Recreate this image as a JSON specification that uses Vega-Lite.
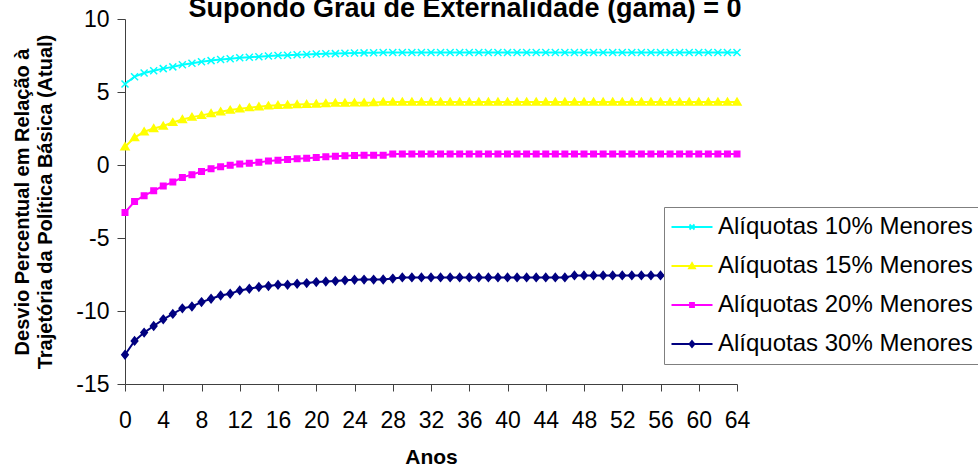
{
  "$schema": "https://vega.github.io/schema/vega-lite/v6.json",
  "width": 612,
  "height": 365,
  "autosize": {"type": "none"},
  "padding": {"left": 125, "top": 19, "right": 241, "bottom": 86},
  "background": "white",
  "title": {
    "text": "Supondo Grau de Externalidade (gama) = 0",
    "font": "Liberation Sans",
    "fontSize": 27,
    "fontWeight": "bold",
    "color": "black",
    "anchor": "middle",
    "dx": 34,
    "dy": 40,
    "baseline": "alphabetic"
  },
  "config": {
    "view": {"stroke": null},
    "font": "Liberation Sans",
    "axis": {
      "grid": false,
      "labelFont": "Liberation Sans",
      "labelFontSize": 23,
      "labelColor": "black",
      "titleFont": "Liberation Sans",
      "titleFontWeight": "bold",
      "titleColor": "black",
      "domainColor": "#404040",
      "tickColor": "#404040",
      "domainWidth": 1,
      "tickWidth": 1
    }
  },
  "data": {
    "values": [
      {"ano": 0, "desvio": 5.55, "serie": "Alíquotas 10% Menores"},
      {"ano": 1, "desvio": 6.05, "serie": "Alíquotas 10% Menores"},
      {"ano": 2, "desvio": 6.3, "serie": "Alíquotas 10% Menores"},
      {"ano": 3, "desvio": 6.45, "serie": "Alíquotas 10% Menores"},
      {"ano": 4, "desvio": 6.6, "serie": "Alíquotas 10% Menores"},
      {"ano": 5, "desvio": 6.72, "serie": "Alíquotas 10% Menores"},
      {"ano": 6, "desvio": 6.87, "serie": "Alíquotas 10% Menores"},
      {"ano": 7, "desvio": 6.97, "serie": "Alíquotas 10% Menores"},
      {"ano": 8, "desvio": 7.07, "serie": "Alíquotas 10% Menores"},
      {"ano": 9, "desvio": 7.15, "serie": "Alíquotas 10% Menores"},
      {"ano": 10, "desvio": 7.23, "serie": "Alíquotas 10% Menores"},
      {"ano": 11, "desvio": 7.28, "serie": "Alíquotas 10% Menores"},
      {"ano": 12, "desvio": 7.34, "serie": "Alíquotas 10% Menores"},
      {"ano": 13, "desvio": 7.38, "serie": "Alíquotas 10% Menores"},
      {"ano": 14, "desvio": 7.42, "serie": "Alíquotas 10% Menores"},
      {"ano": 15, "desvio": 7.46, "serie": "Alíquotas 10% Menores"},
      {"ano": 16, "desvio": 7.5, "serie": "Alíquotas 10% Menores"},
      {"ano": 17, "desvio": 7.52, "serie": "Alíquotas 10% Menores"},
      {"ano": 18, "desvio": 7.55, "serie": "Alíquotas 10% Menores"},
      {"ano": 19, "desvio": 7.57, "serie": "Alíquotas 10% Menores"},
      {"ano": 20, "desvio": 7.6, "serie": "Alíquotas 10% Menores"},
      {"ano": 21, "desvio": 7.62, "serie": "Alíquotas 10% Menores"},
      {"ano": 22, "desvio": 7.63, "serie": "Alíquotas 10% Menores"},
      {"ano": 23, "desvio": 7.65, "serie": "Alíquotas 10% Menores"},
      {"ano": 24, "desvio": 7.67, "serie": "Alíquotas 10% Menores"},
      {"ano": 25, "desvio": 7.68, "serie": "Alíquotas 10% Menores"},
      {"ano": 26, "desvio": 7.69, "serie": "Alíquotas 10% Menores"},
      {"ano": 27, "desvio": 7.7, "serie": "Alíquotas 10% Menores"},
      {"ano": 28, "desvio": 7.7, "serie": "Alíquotas 10% Menores"},
      {"ano": 29, "desvio": 7.7, "serie": "Alíquotas 10% Menores"},
      {"ano": 30, "desvio": 7.7, "serie": "Alíquotas 10% Menores"},
      {"ano": 31, "desvio": 7.7, "serie": "Alíquotas 10% Menores"},
      {"ano": 32, "desvio": 7.7, "serie": "Alíquotas 10% Menores"},
      {"ano": 33, "desvio": 7.7, "serie": "Alíquotas 10% Menores"},
      {"ano": 34, "desvio": 7.7, "serie": "Alíquotas 10% Menores"},
      {"ano": 35, "desvio": 7.7, "serie": "Alíquotas 10% Menores"},
      {"ano": 36, "desvio": 7.7, "serie": "Alíquotas 10% Menores"},
      {"ano": 37, "desvio": 7.7, "serie": "Alíquotas 10% Menores"},
      {"ano": 38, "desvio": 7.7, "serie": "Alíquotas 10% Menores"},
      {"ano": 39, "desvio": 7.7, "serie": "Alíquotas 10% Menores"},
      {"ano": 40, "desvio": 7.7, "serie": "Alíquotas 10% Menores"},
      {"ano": 41, "desvio": 7.7, "serie": "Alíquotas 10% Menores"},
      {"ano": 42, "desvio": 7.7, "serie": "Alíquotas 10% Menores"},
      {"ano": 43, "desvio": 7.7, "serie": "Alíquotas 10% Menores"},
      {"ano": 44, "desvio": 7.7, "serie": "Alíquotas 10% Menores"},
      {"ano": 45, "desvio": 7.7, "serie": "Alíquotas 10% Menores"},
      {"ano": 46, "desvio": 7.7, "serie": "Alíquotas 10% Menores"},
      {"ano": 47, "desvio": 7.7, "serie": "Alíquotas 10% Menores"},
      {"ano": 48, "desvio": 7.7, "serie": "Alíquotas 10% Menores"},
      {"ano": 49, "desvio": 7.7, "serie": "Alíquotas 10% Menores"},
      {"ano": 50, "desvio": 7.7, "serie": "Alíquotas 10% Menores"},
      {"ano": 51, "desvio": 7.7, "serie": "Alíquotas 10% Menores"},
      {"ano": 52, "desvio": 7.7, "serie": "Alíquotas 10% Menores"},
      {"ano": 53, "desvio": 7.7, "serie": "Alíquotas 10% Menores"},
      {"ano": 54, "desvio": 7.7, "serie": "Alíquotas 10% Menores"},
      {"ano": 55, "desvio": 7.7, "serie": "Alíquotas 10% Menores"},
      {"ano": 56, "desvio": 7.7, "serie": "Alíquotas 10% Menores"},
      {"ano": 57, "desvio": 7.7, "serie": "Alíquotas 10% Menores"},
      {"ano": 58, "desvio": 7.7, "serie": "Alíquotas 10% Menores"},
      {"ano": 59, "desvio": 7.7, "serie": "Alíquotas 10% Menores"},
      {"ano": 60, "desvio": 7.7, "serie": "Alíquotas 10% Menores"},
      {"ano": 61, "desvio": 7.7, "serie": "Alíquotas 10% Menores"},
      {"ano": 62, "desvio": 7.7, "serie": "Alíquotas 10% Menores"},
      {"ano": 63, "desvio": 7.7, "serie": "Alíquotas 10% Menores"},
      {"ano": 64, "desvio": 7.7, "serie": "Alíquotas 10% Menores"},

      {"ano": 0, "desvio": 1.25, "serie": "Alíquotas 15% Menores"},
      {"ano": 1, "desvio": 1.88, "serie": "Alíquotas 15% Menores"},
      {"ano": 2, "desvio": 2.28, "serie": "Alíquotas 15% Menores"},
      {"ano": 3, "desvio": 2.5, "serie": "Alíquotas 15% Menores"},
      {"ano": 4, "desvio": 2.67, "serie": "Alíquotas 15% Menores"},
      {"ano": 5, "desvio": 2.92, "serie": "Alíquotas 15% Menores"},
      {"ano": 6, "desvio": 3.12, "serie": "Alíquotas 15% Menores"},
      {"ano": 7, "desvio": 3.28, "serie": "Alíquotas 15% Menores"},
      {"ano": 8, "desvio": 3.4, "serie": "Alíquotas 15% Menores"},
      {"ano": 9, "desvio": 3.53, "serie": "Alíquotas 15% Menores"},
      {"ano": 10, "desvio": 3.65, "serie": "Alíquotas 15% Menores"},
      {"ano": 11, "desvio": 3.76, "serie": "Alíquotas 15% Menores"},
      {"ano": 12, "desvio": 3.85, "serie": "Alíquotas 15% Menores"},
      {"ano": 13, "desvio": 3.93, "serie": "Alíquotas 15% Menores"},
      {"ano": 14, "desvio": 3.99, "serie": "Alíquotas 15% Menores"},
      {"ano": 15, "desvio": 4.05, "serie": "Alíquotas 15% Menores"},
      {"ano": 16, "desvio": 4.09, "serie": "Alíquotas 15% Menores"},
      {"ano": 17, "desvio": 4.11, "serie": "Alíquotas 15% Menores"},
      {"ano": 18, "desvio": 4.14, "serie": "Alíquotas 15% Menores"},
      {"ano": 19, "desvio": 4.16, "serie": "Alíquotas 15% Menores"},
      {"ano": 20, "desvio": 4.18, "serie": "Alíquotas 15% Menores"},
      {"ano": 21, "desvio": 4.22, "serie": "Alíquotas 15% Menores"},
      {"ano": 22, "desvio": 4.24, "serie": "Alíquotas 15% Menores"},
      {"ano": 23, "desvio": 4.25, "serie": "Alíquotas 15% Menores"},
      {"ano": 24, "desvio": 4.26, "serie": "Alíquotas 15% Menores"},
      {"ano": 25, "desvio": 4.27, "serie": "Alíquotas 15% Menores"},
      {"ano": 26, "desvio": 4.28, "serie": "Alíquotas 15% Menores"},
      {"ano": 27, "desvio": 4.32, "serie": "Alíquotas 15% Menores"},
      {"ano": 28, "desvio": 4.32, "serie": "Alíquotas 15% Menores"},
      {"ano": 29, "desvio": 4.32, "serie": "Alíquotas 15% Menores"},
      {"ano": 30, "desvio": 4.32, "serie": "Alíquotas 15% Menores"},
      {"ano": 31, "desvio": 4.32, "serie": "Alíquotas 15% Menores"},
      {"ano": 32, "desvio": 4.32, "serie": "Alíquotas 15% Menores"},
      {"ano": 33, "desvio": 4.32, "serie": "Alíquotas 15% Menores"},
      {"ano": 34, "desvio": 4.32, "serie": "Alíquotas 15% Menores"},
      {"ano": 35, "desvio": 4.32, "serie": "Alíquotas 15% Menores"},
      {"ano": 36, "desvio": 4.32, "serie": "Alíquotas 15% Menores"},
      {"ano": 37, "desvio": 4.32, "serie": "Alíquotas 15% Menores"},
      {"ano": 38, "desvio": 4.32, "serie": "Alíquotas 15% Menores"},
      {"ano": 39, "desvio": 4.32, "serie": "Alíquotas 15% Menores"},
      {"ano": 40, "desvio": 4.32, "serie": "Alíquotas 15% Menores"},
      {"ano": 41, "desvio": 4.32, "serie": "Alíquotas 15% Menores"},
      {"ano": 42, "desvio": 4.32, "serie": "Alíquotas 15% Menores"},
      {"ano": 43, "desvio": 4.32, "serie": "Alíquotas 15% Menores"},
      {"ano": 44, "desvio": 4.32, "serie": "Alíquotas 15% Menores"},
      {"ano": 45, "desvio": 4.32, "serie": "Alíquotas 15% Menores"},
      {"ano": 46, "desvio": 4.32, "serie": "Alíquotas 15% Menores"},
      {"ano": 47, "desvio": 4.32, "serie": "Alíquotas 15% Menores"},
      {"ano": 48, "desvio": 4.32, "serie": "Alíquotas 15% Menores"},
      {"ano": 49, "desvio": 4.32, "serie": "Alíquotas 15% Menores"},
      {"ano": 50, "desvio": 4.32, "serie": "Alíquotas 15% Menores"},
      {"ano": 51, "desvio": 4.32, "serie": "Alíquotas 15% Menores"},
      {"ano": 52, "desvio": 4.32, "serie": "Alíquotas 15% Menores"},
      {"ano": 53, "desvio": 4.32, "serie": "Alíquotas 15% Menores"},
      {"ano": 54, "desvio": 4.32, "serie": "Alíquotas 15% Menores"},
      {"ano": 55, "desvio": 4.32, "serie": "Alíquotas 15% Menores"},
      {"ano": 56, "desvio": 4.32, "serie": "Alíquotas 15% Menores"},
      {"ano": 57, "desvio": 4.32, "serie": "Alíquotas 15% Menores"},
      {"ano": 58, "desvio": 4.32, "serie": "Alíquotas 15% Menores"},
      {"ano": 59, "desvio": 4.32, "serie": "Alíquotas 15% Menores"},
      {"ano": 60, "desvio": 4.32, "serie": "Alíquotas 15% Menores"},
      {"ano": 61, "desvio": 4.32, "serie": "Alíquotas 15% Menores"},
      {"ano": 62, "desvio": 4.32, "serie": "Alíquotas 15% Menores"},
      {"ano": 63, "desvio": 4.32, "serie": "Alíquotas 15% Menores"},
      {"ano": 64, "desvio": 4.32, "serie": "Alíquotas 15% Menores"},

      {"ano": 0, "desvio": -3.25, "serie": "Alíquotas 20% Menores"},
      {"ano": 1, "desvio": -2.5, "serie": "Alíquotas 20% Menores"},
      {"ano": 2, "desvio": -2.1, "serie": "Alíquotas 20% Menores"},
      {"ano": 3, "desvio": -1.77, "serie": "Alíquotas 20% Menores"},
      {"ano": 4, "desvio": -1.43, "serie": "Alíquotas 20% Menores"},
      {"ano": 5, "desvio": -1.17, "serie": "Alíquotas 20% Menores"},
      {"ano": 6, "desvio": -0.85, "serie": "Alíquotas 20% Menores"},
      {"ano": 7, "desvio": -0.66, "serie": "Alíquotas 20% Menores"},
      {"ano": 8, "desvio": -0.45, "serie": "Alíquotas 20% Menores"},
      {"ano": 9, "desvio": -0.25, "serie": "Alíquotas 20% Menores"},
      {"ano": 10, "desvio": -0.12, "serie": "Alíquotas 20% Menores"},
      {"ano": 11, "desvio": -0.02, "serie": "Alíquotas 20% Menores"},
      {"ano": 12, "desvio": 0.07, "serie": "Alíquotas 20% Menores"},
      {"ano": 13, "desvio": 0.12, "serie": "Alíquotas 20% Menores"},
      {"ano": 14, "desvio": 0.18, "serie": "Alíquotas 20% Menores"},
      {"ano": 15, "desvio": 0.28, "serie": "Alíquotas 20% Menores"},
      {"ano": 16, "desvio": 0.33, "serie": "Alíquotas 20% Menores"},
      {"ano": 17, "desvio": 0.38, "serie": "Alíquotas 20% Menores"},
      {"ano": 18, "desvio": 0.42, "serie": "Alíquotas 20% Menores"},
      {"ano": 19, "desvio": 0.47, "serie": "Alíquotas 20% Menores"},
      {"ano": 20, "desvio": 0.52, "serie": "Alíquotas 20% Menores"},
      {"ano": 21, "desvio": 0.56, "serie": "Alíquotas 20% Menores"},
      {"ano": 22, "desvio": 0.6, "serie": "Alíquotas 20% Menores"},
      {"ano": 23, "desvio": 0.64, "serie": "Alíquotas 20% Menores"},
      {"ano": 24, "desvio": 0.65, "serie": "Alíquotas 20% Menores"},
      {"ano": 25, "desvio": 0.66, "serie": "Alíquotas 20% Menores"},
      {"ano": 26, "desvio": 0.66, "serie": "Alíquotas 20% Menores"},
      {"ano": 27, "desvio": 0.66, "serie": "Alíquotas 20% Menores"},
      {"ano": 28, "desvio": 0.75, "serie": "Alíquotas 20% Menores"},
      {"ano": 29, "desvio": 0.75, "serie": "Alíquotas 20% Menores"},
      {"ano": 30, "desvio": 0.75, "serie": "Alíquotas 20% Menores"},
      {"ano": 31, "desvio": 0.75, "serie": "Alíquotas 20% Menores"},
      {"ano": 32, "desvio": 0.75, "serie": "Alíquotas 20% Menores"},
      {"ano": 33, "desvio": 0.75, "serie": "Alíquotas 20% Menores"},
      {"ano": 34, "desvio": 0.75, "serie": "Alíquotas 20% Menores"},
      {"ano": 35, "desvio": 0.75, "serie": "Alíquotas 20% Menores"},
      {"ano": 36, "desvio": 0.75, "serie": "Alíquotas 20% Menores"},
      {"ano": 37, "desvio": 0.75, "serie": "Alíquotas 20% Menores"},
      {"ano": 38, "desvio": 0.75, "serie": "Alíquotas 20% Menores"},
      {"ano": 39, "desvio": 0.75, "serie": "Alíquotas 20% Menores"},
      {"ano": 40, "desvio": 0.75, "serie": "Alíquotas 20% Menores"},
      {"ano": 41, "desvio": 0.75, "serie": "Alíquotas 20% Menores"},
      {"ano": 42, "desvio": 0.75, "serie": "Alíquotas 20% Menores"},
      {"ano": 43, "desvio": 0.75, "serie": "Alíquotas 20% Menores"},
      {"ano": 44, "desvio": 0.75, "serie": "Alíquotas 20% Menores"},
      {"ano": 45, "desvio": 0.75, "serie": "Alíquotas 20% Menores"},
      {"ano": 46, "desvio": 0.75, "serie": "Alíquotas 20% Menores"},
      {"ano": 47, "desvio": 0.75, "serie": "Alíquotas 20% Menores"},
      {"ano": 48, "desvio": 0.75, "serie": "Alíquotas 20% Menores"},
      {"ano": 49, "desvio": 0.75, "serie": "Alíquotas 20% Menores"},
      {"ano": 50, "desvio": 0.75, "serie": "Alíquotas 20% Menores"},
      {"ano": 51, "desvio": 0.75, "serie": "Alíquotas 20% Menores"},
      {"ano": 52, "desvio": 0.75, "serie": "Alíquotas 20% Menores"},
      {"ano": 53, "desvio": 0.75, "serie": "Alíquotas 20% Menores"},
      {"ano": 54, "desvio": 0.75, "serie": "Alíquotas 20% Menores"},
      {"ano": 55, "desvio": 0.75, "serie": "Alíquotas 20% Menores"},
      {"ano": 56, "desvio": 0.75, "serie": "Alíquotas 20% Menores"},
      {"ano": 57, "desvio": 0.75, "serie": "Alíquotas 20% Menores"},
      {"ano": 58, "desvio": 0.75, "serie": "Alíquotas 20% Menores"},
      {"ano": 59, "desvio": 0.75, "serie": "Alíquotas 20% Menores"},
      {"ano": 60, "desvio": 0.75, "serie": "Alíquotas 20% Menores"},
      {"ano": 61, "desvio": 0.75, "serie": "Alíquotas 20% Menores"},
      {"ano": 62, "desvio": 0.75, "serie": "Alíquotas 20% Menores"},
      {"ano": 63, "desvio": 0.75, "serie": "Alíquotas 20% Menores"},
      {"ano": 64, "desvio": 0.75, "serie": "Alíquotas 20% Menores"},

      {"ano": 0, "desvio": -13.0, "serie": "Alíquotas 30% Menores"},
      {"ano": 1, "desvio": -12.05, "serie": "Alíquotas 30% Menores"},
      {"ano": 2, "desvio": -11.48, "serie": "Alíquotas 30% Menores"},
      {"ano": 3, "desvio": -11.03, "serie": "Alíquotas 30% Menores"},
      {"ano": 4, "desvio": -10.57, "serie": "Alíquotas 30% Menores"},
      {"ano": 5, "desvio": -10.2, "serie": "Alíquotas 30% Menores"},
      {"ano": 6, "desvio": -9.82, "serie": "Alíquotas 30% Menores"},
      {"ano": 7, "desvio": -9.69, "serie": "Alíquotas 30% Menores"},
      {"ano": 8, "desvio": -9.39, "serie": "Alíquotas 30% Menores"},
      {"ano": 9, "desvio": -9.16, "serie": "Alíquotas 30% Menores"},
      {"ano": 10, "desvio": -8.94, "serie": "Alíquotas 30% Menores"},
      {"ano": 11, "desvio": -8.82, "serie": "Alíquotas 30% Menores"},
      {"ano": 12, "desvio": -8.59, "serie": "Alíquotas 30% Menores"},
      {"ano": 13, "desvio": -8.48, "serie": "Alíquotas 30% Menores"},
      {"ano": 14, "desvio": -8.36, "serie": "Alíquotas 30% Menores"},
      {"ano": 15, "desvio": -8.29, "serie": "Alíquotas 30% Menores"},
      {"ano": 16, "desvio": -8.2, "serie": "Alíquotas 30% Menores"},
      {"ano": 17, "desvio": -8.2, "serie": "Alíquotas 30% Menores"},
      {"ano": 18, "desvio": -8.13, "serie": "Alíquotas 30% Menores"},
      {"ano": 19, "desvio": -8.09, "serie": "Alíquotas 30% Menores"},
      {"ano": 20, "desvio": -8.02, "serie": "Alíquotas 30% Menores"},
      {"ano": 21, "desvio": -7.98, "serie": "Alíquotas 30% Menores"},
      {"ano": 22, "desvio": -7.95, "serie": "Alíquotas 30% Menores"},
      {"ano": 23, "desvio": -7.9, "serie": "Alíquotas 30% Menores"},
      {"ano": 24, "desvio": -7.86, "serie": "Alíquotas 30% Menores"},
      {"ano": 25, "desvio": -7.85, "serie": "Alíquotas 30% Menores"},
      {"ano": 26, "desvio": -7.85, "serie": "Alíquotas 30% Menores"},
      {"ano": 27, "desvio": -7.84, "serie": "Alíquotas 30% Menores"},
      {"ano": 28, "desvio": -7.78, "serie": "Alíquotas 30% Menores"},
      {"ano": 29, "desvio": -7.7, "serie": "Alíquotas 30% Menores"},
      {"ano": 30, "desvio": -7.7, "serie": "Alíquotas 30% Menores"},
      {"ano": 31, "desvio": -7.7, "serie": "Alíquotas 30% Menores"},
      {"ano": 32, "desvio": -7.7, "serie": "Alíquotas 30% Menores"},
      {"ano": 33, "desvio": -7.7, "serie": "Alíquotas 30% Menores"},
      {"ano": 34, "desvio": -7.7, "serie": "Alíquotas 30% Menores"},
      {"ano": 35, "desvio": -7.7, "serie": "Alíquotas 30% Menores"},
      {"ano": 36, "desvio": -7.7, "serie": "Alíquotas 30% Menores"},
      {"ano": 37, "desvio": -7.7, "serie": "Alíquotas 30% Menores"},
      {"ano": 38, "desvio": -7.7, "serie": "Alíquotas 30% Menores"},
      {"ano": 39, "desvio": -7.7, "serie": "Alíquotas 30% Menores"},
      {"ano": 40, "desvio": -7.7, "serie": "Alíquotas 30% Menores"},
      {"ano": 41, "desvio": -7.7, "serie": "Alíquotas 30% Menores"},
      {"ano": 42, "desvio": -7.7, "serie": "Alíquotas 30% Menores"},
      {"ano": 43, "desvio": -7.7, "serie": "Alíquotas 30% Menores"},
      {"ano": 44, "desvio": -7.7, "serie": "Alíquotas 30% Menores"},
      {"ano": 45, "desvio": -7.7, "serie": "Alíquotas 30% Menores"},
      {"ano": 46, "desvio": -7.7, "serie": "Alíquotas 30% Menores"},
      {"ano": 47, "desvio": -7.56, "serie": "Alíquotas 30% Menores"},
      {"ano": 48, "desvio": -7.56, "serie": "Alíquotas 30% Menores"},
      {"ano": 49, "desvio": -7.56, "serie": "Alíquotas 30% Menores"},
      {"ano": 50, "desvio": -7.56, "serie": "Alíquotas 30% Menores"},
      {"ano": 51, "desvio": -7.56, "serie": "Alíquotas 30% Menores"},
      {"ano": 52, "desvio": -7.56, "serie": "Alíquotas 30% Menores"},
      {"ano": 53, "desvio": -7.56, "serie": "Alíquotas 30% Menores"},
      {"ano": 54, "desvio": -7.56, "serie": "Alíquotas 30% Menores"},
      {"ano": 55, "desvio": -7.56, "serie": "Alíquotas 30% Menores"},
      {"ano": 56, "desvio": -7.56, "serie": "Alíquotas 30% Menores"},
      {"ano": 57, "desvio": -7.56, "serie": "Alíquotas 30% Menores"},
      {"ano": 58, "desvio": -7.56, "serie": "Alíquotas 30% Menores"},
      {"ano": 59, "desvio": -7.56, "serie": "Alíquotas 30% Menores"},
      {"ano": 60, "desvio": -7.56, "serie": "Alíquotas 30% Menores"},
      {"ano": 61, "desvio": -7.56, "serie": "Alíquotas 30% Menores"},
      {"ano": 62, "desvio": -7.56, "serie": "Alíquotas 30% Menores"},
      {"ano": 63, "desvio": -7.56, "serie": "Alíquotas 30% Menores"},
      {"ano": 64, "desvio": -7.56, "serie": "Alíquotas 30% Menores"}
    ]
  },
  "encoding": {
    "x": {
      "field": "ano",
      "type": "quantitative",
      "scale": {"domain": [0, 64], "nice": false, "zero": false},
      "axis": {
        "title": "Anos",
        "titleFontSize": 21,
        "titlePadding": 14,
        "values": [0, 4, 8, 12, 16, 20, 24, 28, 32, 36, 40, 44, 48, 52, 56, 60, 64],
        "tickSize": 7,
        "labelPadding": 18,
        "labelFlush": false,
        "labelOverlap": false
      }
    },
    "y": {
      "field": "desvio",
      "type": "quantitative",
      "scale": {"domain": [-15, 10], "nice": false, "zero": false},
      "axis": {
        "title": ["Desvio Percentual em Relação à", "Trajetória da Política Básica (Atual)"],
        "titleFontSize": 20,
        "titleLineHeight": 23,
        "titlePadding": 20,
        "values": [-15, -10, -5, 0, 5, 10],
        "labelExpr": "'' + datum.value",
        "tickSize": 8,
        "labelPadding": 8,
        "labelFlush": false,
        "labelOverlap": false
      }
    }
  },
  "layer": [
    {
      "mark": {"type": "line", "strokeWidth": 2},
      "encoding": {
        "color": {
          "field": "serie",
          "type": "nominal",
          "scale": {
            "domain": ["Alíquotas 10% Menores", "Alíquotas 15% Menores", "Alíquotas 20% Menores", "Alíquotas 30% Menores"],
            "range": ["#00FFFF", "#FFFF00", "#FF00FF", "#000080"]
          },
          "legend": {
            "title": null,
            "orient": "none",
            "legendX": 539,
            "legendY": 188,
            "fillColor": "white",
            "strokeColor": "#7f7f7f",
            "padding": 8,
            "labelFont": "Liberation Sans",
            "labelFontSize": 24,
            "labelColor": "black",
            "labelLimit": 400,
            "symbolSize": 100,
            "symbolStrokeWidth": 1.8,
            "symbolOffset": 8,
            "labelOffset": 14,
            "rowPadding": 15
          }
        }
      }
    },
    {
      "transform": [{"filter": {"field": "ano", "lt": 0}}],
      "mark": {"type": "point", "filled": true, "size": 100, "strokeWidth": 1.8, "opacity": 1},
      "encoding": {
        "color": {"field": "serie", "type": "nominal", "legend": null},
        "stroke": {
          "field": "serie",
          "type": "nominal",
          "scale": {
            "domain": ["Alíquotas 10% Menores", "Alíquotas 15% Menores", "Alíquotas 20% Menores", "Alíquotas 30% Menores"],
            "range": ["#00FFFF", "#FFFF00", "#FF00FF", "#000080"]
          },
          "legend": null
        },
        "shape": {
          "field": "serie",
          "type": "nominal",
          "scale": {
            "domain": ["Alíquotas 10% Menores", "Alíquotas 15% Menores", "Alíquotas 20% Menores", "Alíquotas 30% Menores"],
            "range": [
              "M-4.1,0H4.1M-0.5,-0.5L0.5,0.5M-0.5,0.5L0.5,-0.5",
              "M-4.1,0H4.1M0,-0.6L0.6,0.45L-0.6,0.45Z",
              "M-4.1,0H4.1M-0.4,-0.4H0.4V0.4H-0.4Z",
              "M-4.1,0H4.1M0,-0.6L0.5,0L0,0.6L-0.5,0Z"
            ]
          },
          "legend": null
        }
      }
    },
    {
      "transform": [{"filter": {"field": "serie", "equal": "Alíquotas 10% Menores"}}],
      "mark": {"type": "point", "shape": "M-0.7,-0.7L0.7,0.7M-0.7,0.7L0.7,-0.7", "filled": true, "fill": "#00FFFF", "stroke": "#00FFFF", "strokeWidth": 1.5, "size": 100, "opacity": 1}
    },
    {
      "transform": [{"filter": {"field": "serie", "equal": "Alíquotas 15% Menores"}}],
      "mark": {"type": "point", "shape": "M0,-0.75L0.8,0.6L-0.8,0.6Z", "filled": true, "fill": "#FFFF00", "stroke": "#FFFF00", "strokeWidth": 1.5, "size": 100, "opacity": 1}
    },
    {
      "transform": [{"filter": {"field": "serie", "equal": "Alíquotas 20% Menores"}}],
      "mark": {"type": "point", "shape": "M-0.55,-0.55H0.55V0.55H-0.55Z", "filled": true, "fill": "#FF00FF", "stroke": "#FF00FF", "strokeWidth": 1.5, "size": 100, "opacity": 1}
    },
    {
      "transform": [{"filter": {"field": "serie", "equal": "Alíquotas 30% Menores"}}],
      "mark": {"type": "point", "shape": "M0,-0.8L0.65,0L0,0.8L-0.65,0Z", "filled": true, "fill": "#000080", "stroke": "#000080", "strokeWidth": 1.5, "size": 100, "opacity": 1}
    }
  ]
}
